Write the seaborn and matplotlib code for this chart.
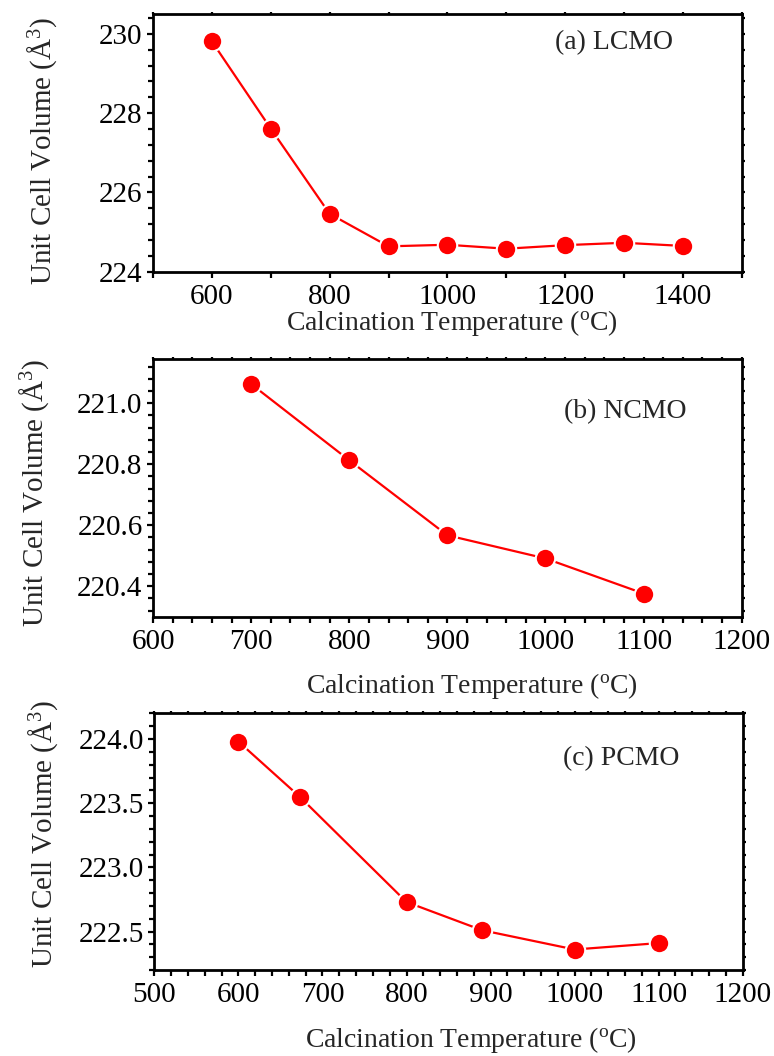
import matplotlib
matplotlib.use("Agg")
import matplotlib.pyplot as plt
import seaborn as sns
import numpy as np
from matplotlib.ticker import MultipleLocator

# ---- data ----
temp_a = [600, 700, 800, 900, 1000, 1100, 1200, 1300, 1400]
vol_a = [229.81, 227.61, 225.46, 224.64, 224.68, 224.58, 224.67, 224.73, 224.65]

temp_b = [700, 800, 900, 1000, 1100]
vol_b = [221.063, 220.813, 220.567, 220.491, 220.376]

temp_c = [600, 673, 800, 890, 1000, 1100]
vol_c = [223.98, 223.55, 222.73, 222.51, 222.36, 222.41]

labels = ["(a) LCMO", "(b) NCMO", "(c) PCMO"]

sns.set_style("ticks")
plt.rcParams["font.family"] = ["Liberation Serif", "DejaVu Serif"]
plt.rcParams["mathtext.fontset"] = "custom"
plt.rcParams["mathtext.rm"] = "Liberation Serif"
plt.rcParams["mathtext.it"] = "Liberation Serif:italic"

fig = plt.figure(figsize=(7.74, 10.56), dpi=100)

rects = [
    [0.1977, 0.7427, 0.7606, 0.2440],
    [0.1977, 0.4160, 0.7606, 0.2437],
    [0.1994, 0.0814, 0.7602, 0.2431],
]
xlims = [(500, 1500), (600, 1200), (500, 1200)]
ylims = [(224, 230.5), (220.3, 221.144), (222.2, 224.2)]
xmaj = [200, 100, 100]
xmin = [100, 20, 20]
ymaj = [2, 0.2, 0.5]
ymin = [0.4, 0.04, 0.1]
yfmt = ["%d", "%.1f", "%.1f"]
txtpos = [(0.683, 0.8875), (0.698, 0.796), (0.694, 0.825)]
ylab_xy = [(-0.16, 0.468), (-0.174, 0.482), (-0.16, 0.53)]
xlab_xy = [(0.507, -0.14), (0.541, -0.21), (0.538, -0.213)]

datasets = [(temp_a, vol_a), (temp_b, vol_b), (temp_c, vol_c)]

for i, (xs, ys) in enumerate(datasets):
    ax = fig.add_axes(rects[i])
    sns.lineplot(x=xs, y=ys, ax=ax, color="#ff0000", linewidth=1.6,
                 marker="o", markersize=14, markeredgecolor="white",
                 markeredgewidth=1.5, markerfacecolor="#ff0000", zorder=3)
    ax.set_xlim(*xlims[i])
    ax.set_ylim(*ylims[i])
    ax.xaxis.set_major_locator(MultipleLocator(xmaj[i]))
    ax.xaxis.set_minor_locator(MultipleLocator(xmin[i]))
    ax.yaxis.set_major_locator(MultipleLocator(ymaj[i]))
    ax.yaxis.set_minor_locator(MultipleLocator(ymin[i]))
    ax.yaxis.set_major_formatter(matplotlib.ticker.FormatStrFormatter(yfmt[i]))
    for s in ax.spines.values():
        s.set_visible(True)
        s.set_linewidth(2.0)
        s.set_color("black")
    ax.tick_params(axis="both", which="both", direction="out", width=1.6,
                   colors="black", labelsize=21)
    ax.tick_params(axis="x", which="major", length=4.5, pad=4)
    ax.tick_params(axis="x", which="minor", length=4.5)
    ax.tick_params(axis="y", which="major", length=4.5, pad=3)
    ax.tick_params(axis="y", which="minor", length=3.5)
    ax.tick_params(axis="x", which="both", top=True, labeltop=False)
    ax.tick_params(axis="y", which="both", right=True, labelright=False)
    for t in ax.xaxis.get_major_ticks() + ax.xaxis.get_minor_ticks():
        t.tick2line.set_markersize(1.5)
    for t in ax.yaxis.get_major_ticks() + ax.yaxis.get_minor_ticks():
        t.tick2line.set_markersize(2.0)
    ax.set_xlabel("Calcination Temperature ($^{\\mathrm{o}}$C)", fontsize=20)
    ax.set_ylabel("Unit Cell Volume ($\\mathrm{\\AA}^{3}$)", fontsize=21)
    ax.xaxis.set_label_coords(*xlab_xy[i])
    ax.yaxis.set_label_coords(*ylab_xy[i])
    ax.text(txtpos[i][0], txtpos[i][1], labels[i], transform=ax.transAxes,
            fontsize=20, ha="left", va="center")
    ax.set_facecolor("white")

fig.savefig("out.png", dpi=100, facecolor="white")
